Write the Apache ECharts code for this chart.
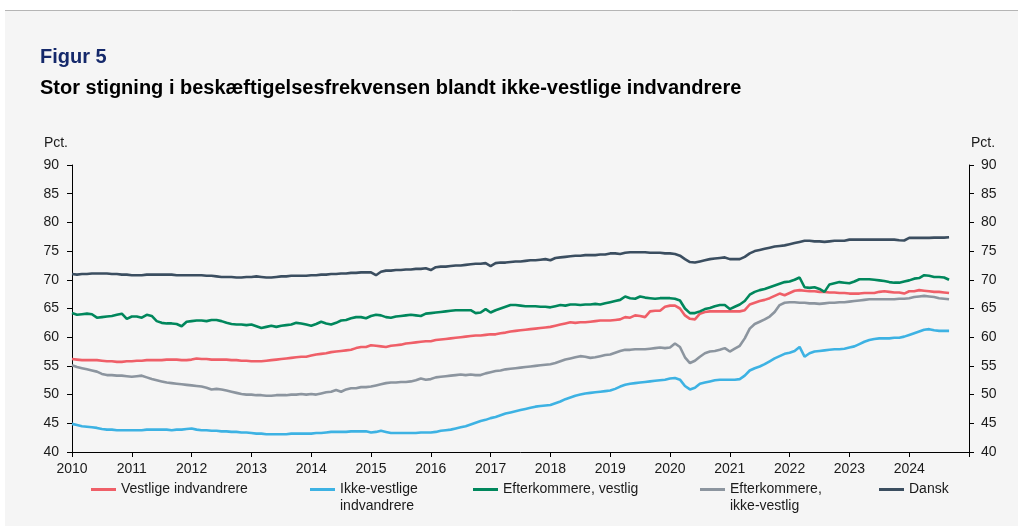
<!DOCTYPE html>
<html>
<head>
<meta charset="utf-8">
<script src="https://cdn.jsdelivr.net/npm/echarts@6/dist/echarts.min.js"></script>
<style>
html,body{margin:0;padding:0;background:#fff;}
#chart{width:1018px;height:526px;}
</style>
</head>
<body>
<div id="chart"></div>
<script>
// Monthly data, Jan 2010 – Sep 2024 (pct.)
const startYear = 2010;
const yearTicks = [2010,2011,2012,2013,2014,2015,2016,2017,2018,2019,2020,2021,2022,2023,2024];
const seriesNames = ['Vestlige indvandrere','Ikke-vestlige\nindvandrere','Efterkommere, vestlig','Efterkommere,\nikke-vestlig','Dansk'];

const vestligeIndvandrere = [
56.2,56.1,56.0,56.0,56.0,56.0,55.9,55.8,55.8,55.7,55.7,55.8,
55.8,55.9,55.9,56.0,56.0,56.0,56.0,56.1,56.1,56.1,56.0,56.0,
56.1,56.3,56.2,56.2,56.1,56.1,56.1,56.1,56.0,56.0,55.9,55.9,
55.8,55.8,55.8,55.9,56.0,56.1,56.2,56.3,56.4,56.5,56.6,56.6,
56.8,57.0,57.1,57.2,57.4,57.5,57.6,57.7,57.8,58.1,58.3,58.3,
58.6,58.5,58.4,58.3,58.5,58.6,58.7,58.9,59.0,59.1,59.2,59.3,
59.3,59.5,59.6,59.7,59.8,59.9,60.0,60.1,60.2,60.3,60.3,60.4,
60.5,60.5,60.7,60.8,61.0,61.1,61.2,61.3,61.4,61.5,61.6,61.7,
61.8,62.0,62.2,62.4,62.6,62.5,62.6,62.6,62.7,62.8,62.9,62.9,
62.9,63.0,63.1,63.5,63.4,63.8,63.7,63.5,64.5,64.6,64.6,65.3,
65.5,65.5,65.0,63.8,63.2,63.1,64.1,64.4,64.5,64.5,64.5,64.5,
64.5,64.5,64.5,64.7,65.7,66.0,66.3,66.5,66.8,67.2,67.6,67.3,
67.7,68.1,68.2,68.1,68.0,68.0,67.9,67.9,67.8,67.8,67.7,67.7,
67.6,67.6,67.6,67.7,67.7,67.7,67.9,68.0,67.9,67.8,67.8,67.6,
68.0,68.0,68.2,68.1,68.0,67.9,67.9,67.8,67.7
];

const ikkeVestligeIndvandrere = [
44.9,44.7,44.5,44.4,44.3,44.2,44.0,43.9,43.9,43.8,43.8,43.8,
43.8,43.8,43.8,43.9,43.9,43.9,43.9,43.9,43.8,43.9,43.9,44.0,
44.1,43.9,43.8,43.8,43.7,43.7,43.6,43.6,43.5,43.5,43.4,43.4,
43.3,43.2,43.2,43.1,43.1,43.1,43.1,43.1,43.2,43.2,43.2,43.2,
43.2,43.3,43.3,43.4,43.5,43.5,43.5,43.5,43.6,43.6,43.6,43.6,
43.4,43.5,43.7,43.5,43.3,43.3,43.3,43.3,43.3,43.3,43.4,43.4,
43.4,43.5,43.7,43.8,43.9,44.1,44.3,44.5,44.8,45.1,45.4,45.6,
45.9,46.1,46.4,46.7,46.9,47.1,47.3,47.5,47.7,47.9,48.0,48.1,
48.2,48.5,48.8,49.2,49.5,49.8,50.0,50.2,50.3,50.4,50.5,50.6,
50.7,51.0,51.4,51.7,51.9,52.0,52.1,52.2,52.3,52.4,52.5,52.6,
52.8,52.9,52.6,51.5,50.9,51.2,51.9,52.1,52.3,52.5,52.6,52.6,
52.6,52.6,52.7,53.3,54.2,54.6,54.9,55.3,55.8,56.3,56.7,57.1,
57.3,57.6,58.3,56.6,57.2,57.5,57.6,57.7,57.8,57.9,57.9,58.0,
58.2,58.4,58.8,59.2,59.5,59.7,59.8,59.8,59.8,59.9,59.9,60.1,
60.4,60.7,61.0,61.3,61.4,61.2,61.1,61.1,61.1
];

const efterkommereVestlig = [
64.2,63.9,64.0,64.1,64.0,63.4,63.5,63.6,63.7,63.9,64.1,63.2,
63.6,63.6,63.4,63.9,63.7,62.8,62.5,62.4,62.4,62.3,61.9,62.7,
62.8,62.9,62.9,62.8,63.0,63.0,62.8,62.5,62.3,62.2,62.2,62.1,
62.2,61.9,61.6,61.8,62.0,61.8,62.0,62.1,62.2,62.5,62.4,62.2,
62.0,62.3,62.7,62.4,62.2,62.5,62.9,63.0,63.3,63.5,63.5,63.3,
63.7,63.9,63.8,63.5,63.4,63.6,63.7,63.8,63.9,63.8,63.7,64.1,
64.2,64.3,64.4,64.5,64.6,64.7,64.7,64.7,64.7,64.2,64.3,64.9,
64.3,64.7,65.0,65.3,65.6,65.6,65.5,65.4,65.4,65.4,65.3,65.3,
65.2,65.4,65.6,65.5,65.7,65.7,65.6,65.7,65.7,65.8,65.7,65.9,
66.1,66.3,66.5,67.1,66.8,66.7,67.1,66.9,66.8,66.7,66.8,66.8,
66.8,66.7,66.4,65.0,64.2,64.2,64.5,64.9,65.1,65.4,65.6,65.6,
64.9,65.3,65.7,66.3,67.4,67.9,68.2,68.4,68.7,69.0,69.3,69.6,
69.7,70.0,70.4,68.7,68.6,68.7,68.4,67.9,69.2,69.4,69.6,69.5,
69.4,69.7,70.1,70.1,70.1,70.0,69.9,69.8,69.6,69.5,69.5,69.7,
69.9,70.2,70.3,70.8,70.7,70.5,70.5,70.4,70.0
];

const efterkommereIkkeVestlig = [
55.1,54.8,54.6,54.4,54.2,54.0,53.6,53.4,53.4,53.3,53.3,53.2,
53.1,53.2,53.3,53.0,52.7,52.5,52.3,52.1,52.0,51.9,51.8,51.7,
51.6,51.5,51.4,51.2,50.9,51.0,50.9,50.7,50.5,50.3,50.1,50.0,
50.0,49.9,49.9,49.8,49.8,49.9,49.9,49.9,50.0,50.0,50.1,50.0,
50.1,50.0,50.2,50.4,50.5,50.8,50.5,50.9,51.1,51.1,51.3,51.3,
51.4,51.6,51.8,52.0,52.1,52.1,52.2,52.2,52.3,52.5,52.8,52.6,
52.7,53.0,53.1,53.2,53.3,53.4,53.5,53.4,53.5,53.4,53.4,53.7,
53.9,54.1,54.2,54.4,54.5,54.6,54.7,54.8,54.9,55.0,55.1,55.2,
55.3,55.5,55.8,56.1,56.3,56.5,56.7,56.6,56.4,56.5,56.7,56.9,
57.0,57.3,57.6,57.8,57.8,57.9,57.9,57.9,58.0,58.1,58.2,58.1,
58.2,58.9,58.3,56.5,55.5,55.9,56.6,57.2,57.5,57.6,57.8,58.1,
57.5,58.0,58.5,59.8,61.5,62.3,62.7,63.1,63.6,64.4,65.6,66.0,
66.1,66.1,66.0,66.0,65.9,65.9,65.8,65.9,66.0,66.0,66.1,66.1,
66.2,66.3,66.4,66.5,66.6,66.6,66.6,66.6,66.6,66.6,66.7,66.7,
66.8,67.0,67.1,67.2,67.1,67.0,66.8,66.7,66.6
];

const dansk = [
71.0,70.9,71.0,71.0,71.1,71.1,71.1,71.1,71.0,71.0,70.9,70.9,
70.8,70.8,70.8,70.9,70.9,70.9,70.9,70.9,70.9,70.8,70.8,70.8,
70.8,70.8,70.8,70.7,70.7,70.6,70.5,70.5,70.5,70.4,70.4,70.5,
70.5,70.6,70.5,70.4,70.4,70.5,70.6,70.6,70.7,70.7,70.7,70.7,
70.8,70.8,70.9,70.9,71.0,71.0,71.1,71.1,71.2,71.2,71.3,71.3,
71.3,70.8,71.4,71.6,71.6,71.7,71.7,71.8,71.8,71.9,71.9,72.0,
71.7,72.2,72.3,72.3,72.4,72.5,72.5,72.6,72.7,72.8,72.8,72.9,
72.4,72.9,73.0,73.0,73.1,73.2,73.2,73.3,73.4,73.4,73.5,73.6,
73.4,73.8,73.9,74.0,74.1,74.2,74.2,74.3,74.3,74.3,74.4,74.4,
74.6,74.6,74.5,74.7,74.8,74.8,74.8,74.8,74.7,74.7,74.7,74.6,
74.6,74.5,74.2,73.6,73.1,73.0,73.2,73.4,73.6,73.7,73.8,73.9,
73.6,73.6,73.6,74.0,74.6,75.0,75.2,75.4,75.6,75.8,75.9,76.0,
76.2,76.4,76.6,76.8,76.8,76.7,76.7,76.6,76.7,76.8,76.8,76.8,
77.0,77.0,77.0,77.0,77.0,77.0,77.0,77.0,77.0,77.0,76.9,76.85,
77.3,77.3,77.3,77.3,77.3,77.35,77.35,77.35,77.4
];

const seriesValues = [vestligeIndvandrere, ikkeVestligeIndvandrere, efterkommereVestlig, efterkommereIkkeVestlig, dansk];
const colors = ['#EF5F68','#3DB2E3','#00875C','#8C959F','#3B4E60'];

const FONT = "'Liberation Sans', Arial, sans-serif";
const TXT = '#1a1a1a';

function toPairs(arr){ return arr.map((v,i)=>[startYear + i/12, v]); }

const chart = echarts.init(document.getElementById('chart'), null, {renderer:'canvas'});

const legendPos = [
  {left: 91, top: 481},
  {left: 310, top: 464},
  {left: 473, top: 481},
  {left: 700, top: 464},
  {left: 879, top: 481}
];

const axisCommonY = {
  type:'value', min:40, max:90, interval:5,
  axisLine:{show:true, lineStyle:{color:'#000', width:1}},
  axisTick:{show:true, inside:false, length:5, lineStyle:{color:'#000'}},
  splitLine:{show:false},
  name:'Pct.', nameLocation:'end', nameGap:15,
  axisLabel:{fontSize:14, color:TXT, fontFamily:FONT}
};

const option = {
  backgroundColor:'transparent',
  animation:false,
  graphic:[
    {type:'rect', z:-10, silent:true, shape:{x:5, y:10, width:1013, height:516}, style:{fill:'#F5F5F5'}},
    {type:'line', z:-9, silent:true, shape:{x1:5, y1:10.5, x2:1018, y2:10.5}, style:{stroke:'#B5B5B5', lineWidth:1}}
  ],
  title:[
    {text:'Figur 5', left:40, top:47, padding:0, textStyle:{fontSize:20, fontWeight:'bold', color:'#15296B', fontFamily:FONT}},
    {text:'Stor stigning i beskæftigelsesfrekvensen blandt ikke-vestlige indvandrere', left:40, top:78, padding:0, textStyle:{fontSize:20, fontWeight:'bold', color:'#000', fontFamily:FONT}}
  ],
  legend: seriesNames.map((n,i)=>({
    data:[n], left:legendPos[i].left, top:legendPos[i].top, padding:0,
    icon:'rect', itemWidth:25, itemHeight:3, itemGap:0, selectedMode:false,
    formatter: name => name.indexOf('\n') >= 0 ? '\n' + name : name,
    textStyle:{fontSize:14, color:TXT, fontFamily:FONT, lineHeight:17}
  })),
  grid:{left:72, right:49, top:165, bottom:74, containLabel:false},
  xAxis:{
    type:'value', min:startYear, max:2025, interval:1,
    axisLine:{show:true, onZero:false, lineStyle:{color:'#000', width:1}},
    axisTick:{show:true, length:5, lineStyle:{color:'#000'}},
    splitLine:{show:false},
    axisLabel:{fontSize:14, color:TXT, fontFamily:FONT, margin:10,
      formatter: v => yearTicks.indexOf(v) >= 0 ? String(v) : ''}
  },
  yAxis:[
    Object.assign({}, axisCommonY, {position:'left',
      nameTextStyle:{fontSize:14, color:TXT, fontFamily:FONT, align:'right', padding:[0,4,0,0]},
      axisLabel:Object.assign({}, axisCommonY.axisLabel, {margin:13})}),
    Object.assign({}, axisCommonY, {position:'right',
      nameTextStyle:{fontSize:14, color:TXT, fontFamily:FONT, align:'left', padding:[0,0,0,2]},
      axisLabel:Object.assign({}, axisCommonY.axisLabel, {margin:12})})
  ],
  series: seriesNames.map((n,i)=>({
    name:n, type:'line', yAxisIndex:0, showSymbol:false, symbol:'none',
    data: toPairs(seriesValues[i]),
    lineStyle:{color:colors[i], width:2.6}, itemStyle:{color:colors[i]},
    emphasis:{disabled:true}
  }))
};
chart.setOption(option);
</script>
</body>
</html>
